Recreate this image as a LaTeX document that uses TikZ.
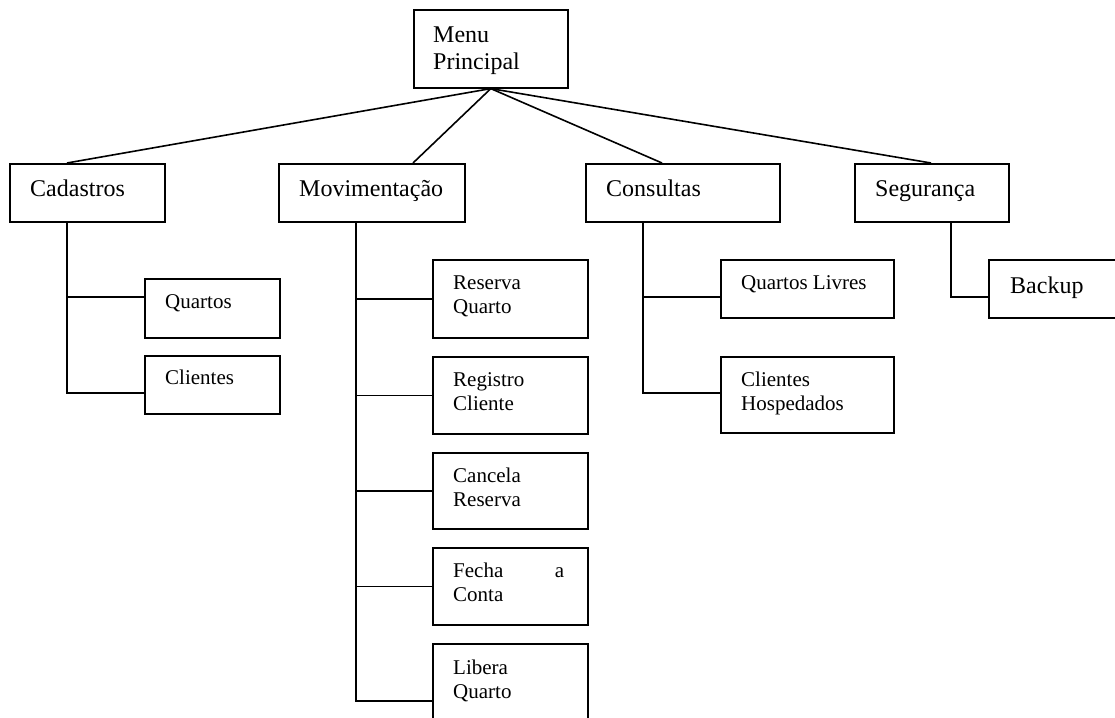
\documentclass[tikz,border=0pt]{standalone}
\usepackage{fontspec}
\setmainfont{Liberation Serif}
% two stacked lines whose baseline is the first line
\newcommand\twoline[2]{\vtop{\hbox{#1}\hbox{#2}}}
\begin{document}
\begin{tikzpicture}[x=1pt,y=-1pt,
  box/.style={draw, line width=1.6pt, inner sep=0pt, anchor=north west},
  big/.style={font=\fontsize{24}{28}\selectfont, anchor=base west, inner sep=0pt},
  small/.style={font=\fontsize{21}{24}\selectfont, anchor=base west, inner sep=0pt},
  link/.style={line width=1.6pt}]
\clip (0,0) rectangle (1115,717);
\fill[white] (0,0) rectangle (1115,717);

% boxes
\node[box, minimum width=154pt, minimum height=78pt] (menu) at (413,9) {};
\node[box, minimum width=155pt, minimum height=58pt] (cad) at (9,163) {};
\node[box, minimum width=186pt, minimum height=58pt] (mov) at (278,163) {};
\node[box, minimum width=194pt, minimum height=58pt] (cons) at (585,163) {};
\node[box, minimum width=154pt, minimum height=58pt] (seg) at (854,163) {};

\node[box, minimum width=135pt, minimum height=59pt] (quartos) at (144,278) {};
\node[box, minimum width=135pt, minimum height=58pt] (clientes) at (144,355) {};

\node[box, minimum width=155pt, minimum height=78pt] (reserva) at (432,259) {};
\node[box, minimum width=155pt, minimum height=77pt] (registro) at (432,356) {};
\node[box, minimum width=155pt, minimum height=76pt] (cancela) at (432,452) {};
\node[box, minimum width=155pt, minimum height=77pt] (fecha) at (432,547) {};
\node[box, minimum width=155pt, minimum height=114pt] (libera) at (432,643) {};

\node[box, minimum width=173pt, minimum height=58pt] (qlivres) at (720,259) {};
\node[box, minimum width=173pt, minimum height=76pt] (chosp) at (720,356) {};

\node[box, minimum width=160pt, minimum height=58pt] (backup) at (988,259) {};

% texts
\node[big] (tmenu) at (433,42) {\twoline{Menu}{Principal}};
\node[big] (tcad) at (30,196) {Cadastros};
\node[big] (tmov) at (299,196) {Movimentação};
\node[big] (tcons) at (606,196) {Consultas};
\node[big] (tseg) at (875,196) {Segurança};
\node[small] (tquartos) at (165,308) {Quartos};
\node[small] (tclientes) at (165,384) {Clientes};
\node[small] (treserva) at (453,289) {\twoline{Reserva}{Quarto}};
\node[small] (tregistro) at (453,386) {\twoline{Registro}{Cliente}};
\node[small] (tcancela) at (453,482) {\twoline{Cancela}{Reserva}};
\node[small] (tfecha) at (453,577) {\twoline{\hbox to 111pt{Fecha\hfill a}}{Conta}};
\node[small] (tlibera) at (453,674) {\twoline{Libera}{Quarto}};
\node[small] (tqlivres) at (741,289) {Quartos Livres};
\node[small] (tchosp) at (741,386) {\twoline{Clientes}{Hospedados}};
\node[big] (tbackup) at (1010,293) {Backup};

% where the branches meet the boxes
\coordinate (cadx) at (67,0);
\coordinate (movtop) at (413,0);
\coordinate (movx) at (356,0);
\coordinate (constop) at (662,0);
\coordinate (consx) at (643,0);
\coordinate (segtop) at (931,0);
\coordinate (segx) at (951,0);
\coordinate (r1) at (0,297);
\coordinate (r2) at (0,393);

% links from the main menu
\draw[link] (menu.south) -- (cad.north -| cadx);
\draw[link] (menu.south) -- (mov.north -| movtop);
\draw[link] (menu.south) -- (cons.north -| constop);
\draw[link] (menu.south) -- (seg.north -| segtop);

% Cadastros
\draw[link] (cad.south -| cadx) |- (clientes.west |- r2);
\draw[link] (cadx |- r1) -- (quartos.west |- r1);

% Movimentação
\draw[link] (mov.south -| movx) |- (libera.west);
\draw[link] (movx |- reserva.west) -- (reserva.west);
\draw[link] (movx |- registro.west) -- (registro.west);
\draw[link] (movx |- cancela.west) -- (cancela.west);
\draw[link] (movx |- fecha.west) -- (fecha.west);

% Consultas
\draw[link] (cons.south -| consx) |- (chosp.west |- r2);
\draw[link] (consx |- r1) -- (qlivres.west |- r1);

% Segurança
\draw[link] (seg.south -| segx) |- (backup.west |- r1);
\end{tikzpicture}
\end{document}
